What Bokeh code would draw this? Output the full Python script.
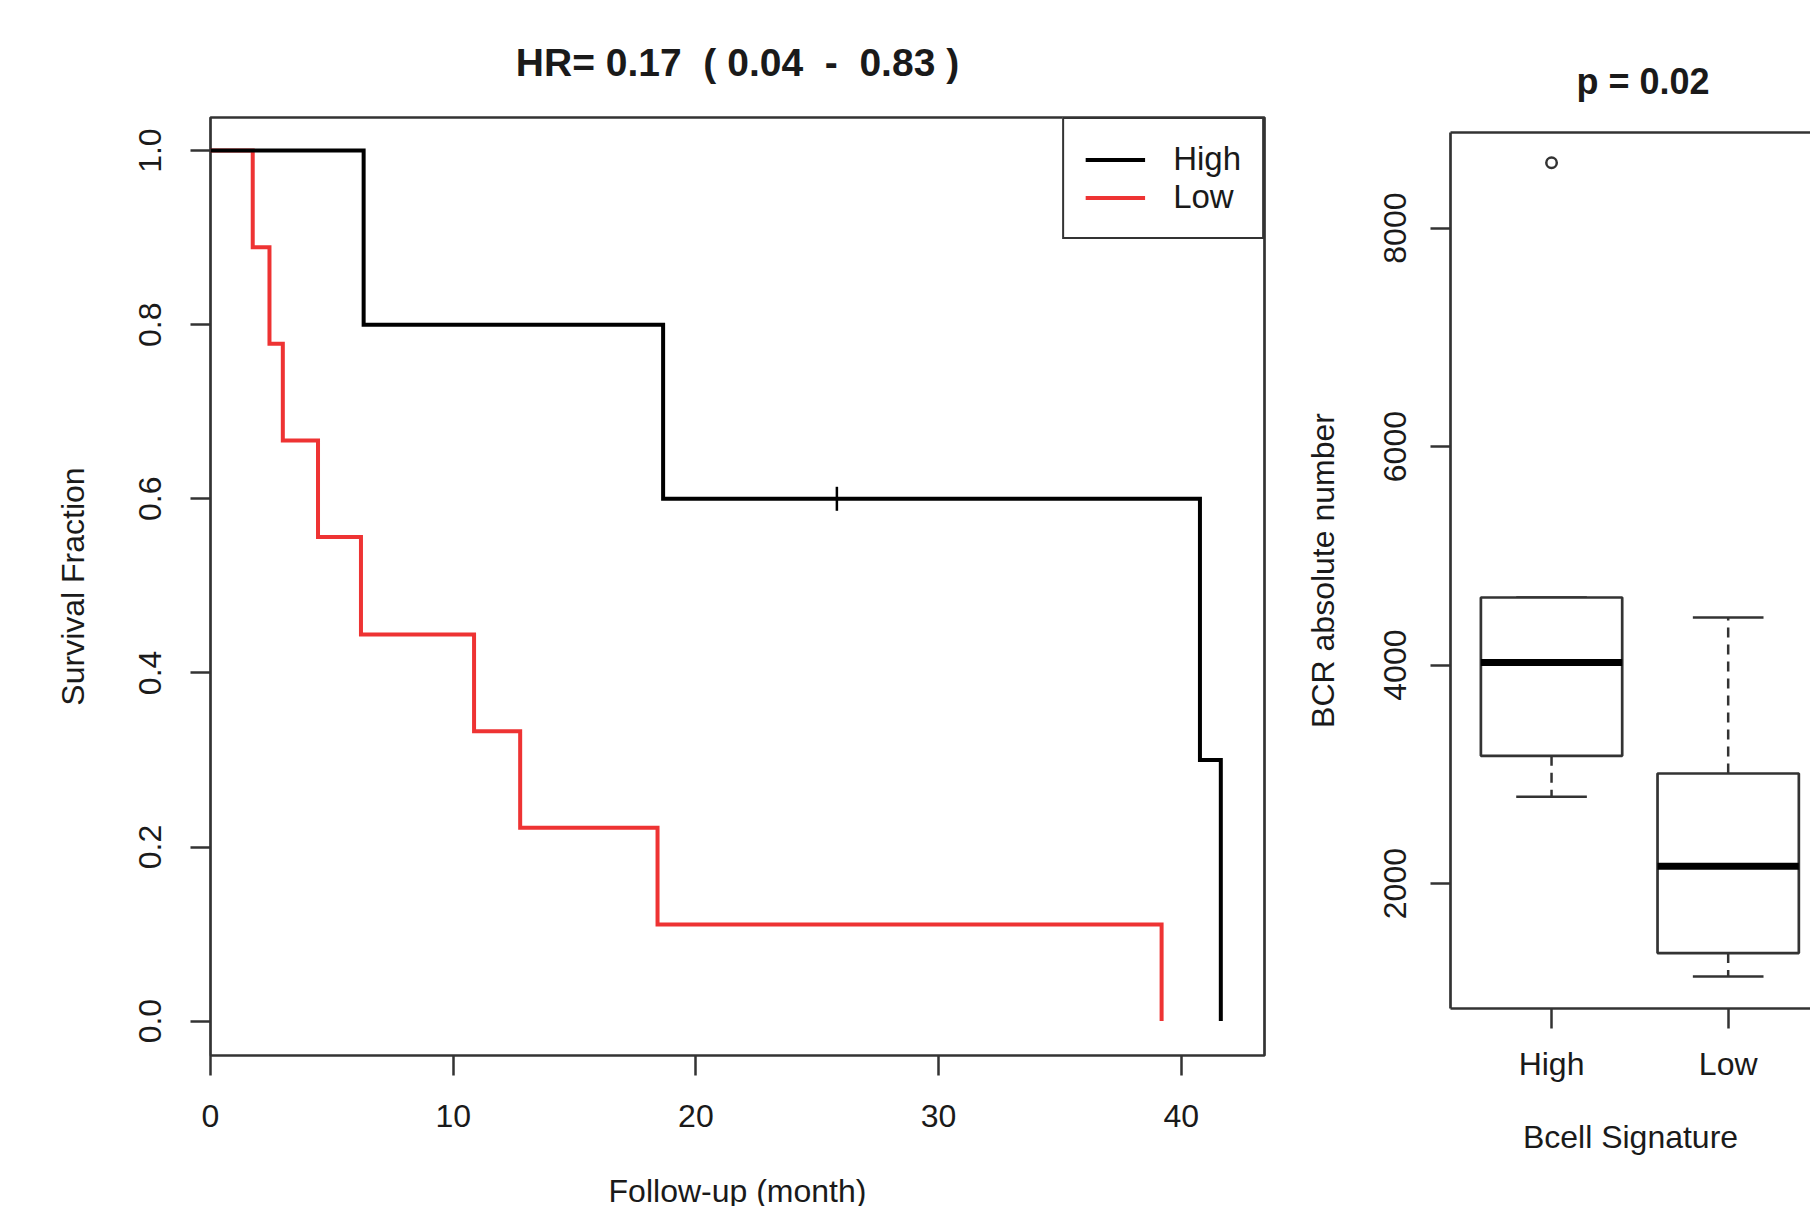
import math
from bokeh.plotting import figure
from bokeh.models import Range1d, FixedTicker, LinearAxis, Legend, LegendItem
from bokeh.layouts import row, column
from bokeh.embed import file_html
from bokeh.resources import INLINE

# ---------------- data ----------------
hr_title = "HR= 0.17\u00a0 ( 0.04\u00a0 -\u00a0 0.83 )"
km_groups = ["High", "Low"]
high_time = [0.0, 6.31, 18.65, 40.77, 41.63]
high_surv = [1.0, 0.8, 0.6, 0.3, 0.0]
high_censor_time = [25.81]
high_censor_surv = [0.6]
low_time = [0.0, 1.74, 2.43, 2.98, 4.43, 6.20, 10.86, 12.76, 18.42, 39.19]
low_surv = [1.0, 0.889, 0.778, 0.667, 0.556, 0.444, 0.333, 0.222, 0.111, 0.0]
km_xticks = [0, 10, 20, 30, 40]
km_yticks = [0.0, 0.2, 0.4, 0.6, 0.8, 1.0]
km_ytick_labels = ["0.0", "0.2", "0.4", "0.6", "0.8", "1.0"]

p_title = "p = 0.02"
box_groups = ["High", "Low"]
box_pos = [1, 2]
box_q1 = [3170, 1364]
box_median = [4024, 2158]
box_q3 = [4619, 3008]
box_whisk_lo = [2795, 1150]
box_whisk_hi = [4619, 4436]
box_outlier_pos = [1]
box_outlier_val = [8598]
bcr_yticks = [2000, 4000, 6000, 8000]

# ---------------- style ----------------
FONT = "Liberation Sans"
TXT = "#1a1a1a"
FRAME = "#333333"
RED = "#EE3333"
TICK_FS = "32px"


def style_axis(ax, standoff, label_standoff):
    ax.major_tick_out = 20
    ax.major_tick_in = 0
    ax.minor_tick_out = 0
    ax.minor_tick_in = 0
    ax.major_tick_line_color = FRAME
    ax.major_tick_line_width = 2.5
    ax.major_label_text_font = FONT
    ax.major_label_text_font_size = TICK_FS
    ax.major_label_text_color = TXT
    ax.major_label_standoff = standoff
    ax.axis_label_text_font = FONT
    ax.axis_label_text_font_size = TICK_FS
    ax.axis_label_text_font_style = "normal"
    ax.axis_label_text_color = TXT
    ax.axis_label_standoff = label_standoff


# ---------------- KM plot ----------------
p1 = figure(frame_width=1054, frame_height=938,
            x_range=Range1d(0, 43.43), y_range=Range1d(-0.0395, 1.038),
            min_border_left=210, min_border_right=36,
            min_border_top=117, min_border_bottom=149,
            output_backend="svg", toolbar_location=None)
p1.xgrid.visible = False
p1.ygrid.visible = False
p1.outline_line_color = FRAME
p1.outline_line_width = 2.7
p1.outline_line_alpha = 1.0
p1.title.text = hr_title
p1.title.align = "center"
p1.title.text_font = FONT
p1.title.text_font_size = "39px"
p1.title.text_font_style = "bold"
p1.title.text_color = TXT
p1.title.standoff = 67

style_axis(p1.xaxis[0], 29, 43)
p1.xaxis.ticker = FixedTicker(ticks=km_xticks)
p1.xaxis.axis_line_color = None
p1.xaxis.axis_label = "Follow-up (month)"

style_axis(p1.yaxis[0], 29, 46)
p1.yaxis.ticker = FixedTicker(ticks=km_yticks)
p1.yaxis.major_label_overrides = {t: s for t, s in zip(km_yticks, km_ytick_labels)}
p1.yaxis.major_label_orientation = "vertical"
p1.yaxis.axis_line_color = None
p1.yaxis.axis_label = "Survival Fraction"

r_low = p1.step(low_time, low_surv, mode="after", line_color=RED, line_width=4, line_join="miter")
r_high = p1.step(high_time, high_surv, mode="after", line_color="black", line_width=4, line_join="miter")
p1.scatter(high_censor_time, high_censor_surv, marker="dash", angle=math.pi / 2, size=24,
           line_color="black", line_width=2.5)

legend = Legend(items=[LegendItem(label=km_groups[0], renderers=[r_high]),
                       LegendItem(label=km_groups[1], renderers=[r_low])],
                location="top_right", margin=0, padding=21, spacing=0,
                glyph_width=60, glyph_height=37, label_height=37, label_standoff=28,
                label_text_font=FONT, label_text_font_size="33px", label_text_color=TXT,
                border_line_color=FRAME, border_line_width=2.5, border_line_alpha=1.0,
                background_fill_alpha=1.0)
p1.add_layout(legend)

# ---------------- boxplot ----------------
p2 = figure(frame_width=360, frame_height=876,
            x_range=Range1d(0.428, 2.466), y_range=Range1d(857, 8875),
            min_border_left=150, min_border_right=0,
            min_border_top=132, min_border_bottom=196,
            output_backend="svg", toolbar_location=None)
p2.xgrid.visible = False
p2.ygrid.visible = False
p2.outline_line_color = None
p2.title.text = p_title
p2.title.align = "left"
p2.title.offset = 126
p2.title.text_font = FONT
p2.title.text_font_size = "36px"
p2.title.text_font_style = "bold"
p2.title.text_color = TXT
p2.title.standoff = 62

style_axis(p2.xaxis[0], 17, 34)
p2.xaxis.ticker = FixedTicker(ticks=box_pos)
p2.xaxis.major_label_overrides = {p: g for p, g in zip(box_pos, box_groups)}
p2.xaxis.axis_line_color = FRAME
p2.xaxis.axis_line_width = 2.7
p2.xaxis.axis_label = "Bcell Signature"

style_axis(p2.yaxis[0], 24, 41)
p2.yaxis.ticker = FixedTicker(ticks=bcr_yticks)
p2.yaxis.major_label_orientation = "vertical"
p2.yaxis.axis_line_color = FRAME
p2.yaxis.axis_line_width = 2.7
p2.yaxis.axis_label = "BCR absolute number"

top_axis = LinearAxis(ticker=FixedTicker(ticks=[]), axis_line_color=FRAME, axis_line_width=2.7,
                      major_tick_out=0, major_tick_in=0, minor_tick_out=0, minor_tick_in=0,
                      major_label_text_font_size="0px")
p2.add_layout(top_axis, "above")

BOXW = 0.8
STAPLE = 0.4
x_lo = [p - BOXW / 2 for p in box_pos]
x_hi = [p + BOXW / 2 for p in box_pos]
s_lo = [p - STAPLE / 2 for p in box_pos]
s_hi = [p + STAPLE / 2 for p in box_pos]

# whiskers (dashed)
p2.segment(x0=box_pos, y0=box_q3, x1=box_pos, y1=box_whisk_hi, line_color=FRAME,
           line_width=2.5, line_dash="10 7")
p2.segment(x0=box_pos, y0=box_q1, x1=box_pos, y1=box_whisk_lo, line_color=FRAME,
           line_width=2.5, line_dash="10 7")
# staples
p2.segment(x0=s_lo, y0=box_whisk_hi, x1=s_hi, y1=box_whisk_hi, line_color=FRAME, line_width=2.5)
p2.segment(x0=s_lo, y0=box_whisk_lo, x1=s_hi, y1=box_whisk_lo, line_color=FRAME, line_width=2.5)
# boxes
p2.vbar(x=box_pos, width=BOXW, bottom=box_q1, top=box_q3, fill_color="white",
        line_color=FRAME, line_width=2.7)
# medians
p2.segment(x0=x_lo, y0=box_median, x1=x_hi, y1=box_median, line_color="black", line_width=7)
# outliers
p2.scatter(box_outlier_pos, box_outlier_val, marker="circle", size=10.5, fill_color=None,
           line_color=FRAME, line_width=2.5)

layout = row(p1, column(p2))
open("out.html", "w").write(file_html(layout, INLINE))
